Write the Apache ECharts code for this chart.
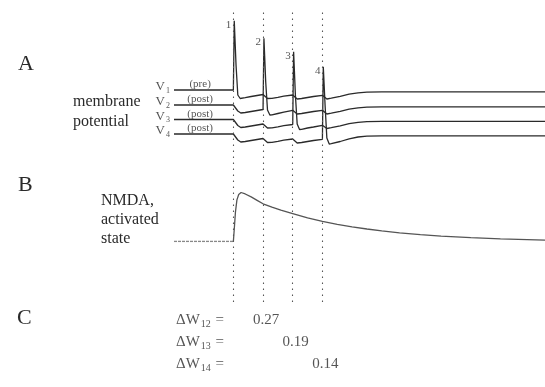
<!DOCTYPE html>
<html>
<head>
<meta charset="utf-8">
<script src="https://cdn.jsdelivr.net/npm/echarts@6/dist/echarts.min.js"></script>
<style>html,body{margin:0;padding:0;background:#fff;}#c{width:545px;height:387px;}</style>
</head>
<body>
<div id="c"></div>
<script>
// ---- data (time in ms, potentials in display units relative to V1 rest) ----
const spikeTimes = [0, 10, 20, 30];
const spikeNumbers = ['1', '2', '3', '4'];
const spikePeaks = [69.3, 51.7, 38.3, 23.3];
const traceSubs = ['1', '2', '3', '4'];
const traceRoles = ['(pre)', '(post)', '(post)', '(post)'];
const traceRest = [0, -15, -29.5, -44];

const v1 = [[-20,0],[0,0],[0.3,69.3],[0.9,25],[1.5,-5],[2.3,-8.5],[4,-7.6],[6,-6.5],[8,-5.5],[10,-4.5],[10.5,-4],[11.5,-8.5],[13,-8.3],[15,-7.3],[17,-6.2],[20,-5],[20.5,-4.3],[21.5,-9],[23,-8.5],[25,-7.5],[27,-6.5],[30,-5.3],[30.5,-4.6],[31.5,-9],[33,-8.2],[36,-6.3],[39,-4.2],[42,-2.8],[45,-2.1],[50,-1.9],[105,-1.9]];
const v2 = [[-20,-15],[0,-15],[0.5,-16],[1.5,-21],[2.5,-23],[4,-22.5],[6,-21.5],[8,-20.5],[10,-19.5],[10.3,51.7],[10.9,8],[11.5,-20],[12.3,-25],[13,-24.8],[15,-23.5],[17,-22.2],[20,-20.3],[20.5,-19.3],[21.5,-24],[23,-23.5],[25,-22.5],[27,-21.5],[30,-20.3],[30.5,-19.6],[31.5,-24],[33,-23.2],[36,-21.3],[39,-19.2],[42,-17.8],[45,-17.1],[50,-16.9],[105,-16.9]];
const v3 = [[-20,-29.5],[0,-29.5],[0.5,-30.5],[1.5,-35.5],[2.5,-37.5],[4,-37],[6,-36],[8,-35],[10,-34],[10.5,-33.5],[11.5,-38],[13,-37.8],[15,-36.8],[17,-35.7],[20,-34.5],[20.3,38.3],[20.9,-5],[21.5,-34],[22.3,-39.5],[23,-39.3],[25,-38],[27,-37],[30,-35.3],[30.5,-34.1],[31.5,-38.5],[33,-37.7],[36,-35.8],[39,-33.7],[42,-32.3],[45,-31.6],[50,-31.4],[105,-31.4]];
const v4 = [[-20,-44],[0,-44],[0.5,-45],[1.5,-50],[2.5,-52],[4,-51.5],[6,-50.5],[8,-49.5],[10,-48.5],[10.5,-48],[11.5,-52.5],[13,-52.3],[15,-51.3],[17,-50.2],[20,-49],[20.5,-48.3],[21.5,-53],[23,-52.5],[25,-51.5],[27,-50.5],[30,-49.3],[30.3,23.3],[30.9,-15],[31.5,-48],[32.3,-54],[33,-53.7],[36,-51.5],[39,-48.8],[42,-47],[45,-46.2],[50,-45.9],[105,-45.9]];
const traces = [v1, v2, v3, v4];

const nmdaRest = [[-20,0],[0,0]];
const nmda = [[0,0],[0.3,0.25],[0.7,0.6],[1.2,0.85],[1.8,0.96],[2.6,1.0],[4,0.97],[6,0.91],[8,0.84],[10,0.77],[13,0.70],[16,0.64],[20,0.57],[25,0.48],[30,0.41],[35,0.35],[40,0.30],[45,0.255],[50,0.215],[56,0.175],[63,0.14],[70,0.11],[80,0.08],[90,0.055],[105,0.03]];

const dwPairs = ['12', '13', '14'];
const dwTimes = [10, 20, 30];
const dwValues = [0.27, 0.19, 0.14];

// ---- chart ----
const SERIF = '"Liberation Serif","DejaVu Serif",serif';
const INK = '#2a2a2a';
const chart = echarts.init(document.getElementById('c'), null, {renderer: 'canvas'});

const xBase = {type: 'value', min: -20, max: 105, show: false};
const grids = [
  {left: 174, right: 0, top: 10, height: 140},   // A
  {left: 174, right: 0, top: 192.5, height: 49}, // B
  {left: 174, right: 0, top: 309, height: 66},   // C
  {left: 174, right: 0, top: 12, height: 290}    // markers
];

const series = [];
traces.forEach((d, i) => {
  series.push({type: 'line', xAxisIndex: 0, yAxisIndex: 0, data: d, showSymbol: false, silent: true,
    lineStyle: {color: INK, width: 1.3}, z: 3});
});
// V labels and role labels
series.push({type: 'scatter', xAxisIndex: 0, yAxisIndex: 0, symbolSize: 0, silent: true,
  data: traceRest.map((r, i) => ({value: [-20, r], sub: traceSubs[i]})),
  label: {show: true, position: 'left', distance: 4, offset: [0, -3],
    formatter: p => '{v|V}{s|' + p.data.sub + '}',
    rich: {v: {fontFamily: SERIF, fontSize: 13, color: INK},
           s: {fontFamily: SERIF, fontSize: 8, color: INK, padding: [7, 0, 0, 1]}}}});
series.push({type: 'scatter', xAxisIndex: 0, yAxisIndex: 0, symbolSize: 0, silent: true,
  data: traceRest.map((r, i) => ({value: [-11.2, r], role: traceRoles[i]})),
  label: {show: true, position: 'top', distance: 0, formatter: p => p.data.role,
    fontFamily: SERIF, fontSize: 11, color: INK}});
// spike numbers
series.push({type: 'scatter', xAxisIndex: 0, yAxisIndex: 0, symbolSize: 0, silent: true,
  data: spikeTimes.map((t, i) => ({value: [t, spikePeaks[i]], n: spikeNumbers[i]})),
  label: {show: true, position: 'left', distance: 2, offset: [0, 4], formatter: p => p.data.n,
    fontFamily: SERIF, fontSize: 11, color: INK}});
// NMDA
series.push({type: 'line', xAxisIndex: 1, yAxisIndex: 1, data: nmdaRest, showSymbol: false, silent: true,
  lineStyle: {color: '#888', width: 1.3, type: [3, 1]}});
series.push({type: 'line', xAxisIndex: 1, yAxisIndex: 1, data: nmda, showSymbol: false, silent: true,
  lineStyle: {color: '#555', width: 1.3}});
// dW rows
series.push({type: 'scatter', xAxisIndex: 2, yAxisIndex: 2, symbolSize: 0, silent: true,
  data: dwPairs.map((p, i) => ({value: [-20, i], pair: p})),
  label: {show: true, position: 'right', distance: 2,
    formatter: p => '{d|\u0394W}{s|' + p.data.pair + '}{d| =}',
    rich: {d: {fontFamily: SERIF, fontSize: 15, color: INK},
           s: {fontFamily: SERIF, fontSize: 10, color: INK, padding: [9, 1, 0, 1]}}}});
series.push({type: 'scatter', xAxisIndex: 2, yAxisIndex: 2, symbolSize: 0, silent: true,
  data: dwValues.map((v, i) => [dwTimes[i], i]),
  label: {show: true, position: 'inside', offset: [3, 0], formatter: p => dwValues[p.dataIndex].toFixed(2),
    fontFamily: SERIF, fontSize: 15, color: INK}});
// dotted spike-time markers
series.push({type: 'line', xAxisIndex: 3, yAxisIndex: 3, data: [], silent: true,
  markLine: {symbol: 'none', silent: true, label: {show: false},
    lineStyle: {color: '#555', width: 1.1, type: [1.5, 4.5]},
    data: spikeTimes.map(t => ({xAxis: t}))}});

const T = (x, y, text, size) => ({type: 'text', left: x, top: y,
  style: {text: text, font: size + 'px ' + SERIF, fill: INK}});

chart.setOption({
  animation: false,
  backgroundColor: '#fff',
  grid: grids,
  xAxis: [0, 1, 2, 3].map(i => Object.assign({gridIndex: i}, xBase)),
  yAxis: [
    {gridIndex: 0, type: 'value', min: -60, max: 80, show: false},
    {gridIndex: 1, type: 'value', min: 0, max: 1, show: false},
    {gridIndex: 2, type: 'category', data: dwPairs, inverse: true, show: false},
    {gridIndex: 3, type: 'value', min: 0, max: 1, show: false}
  ],
  graphic: [
    T(18, 53, 'A', 22),
    T(18, 174, 'B', 22),
    T(17, 307, 'C', 22),
    T(73, 94, 'membrane', 16),
    T(73, 114, 'potential', 16),
    T(101, 193, 'NMDA,', 16),
    T(101, 212, 'activated', 16),
    T(101, 231, 'state', 16)
  ],
  series: series
});
</script>
</body>
</html>
